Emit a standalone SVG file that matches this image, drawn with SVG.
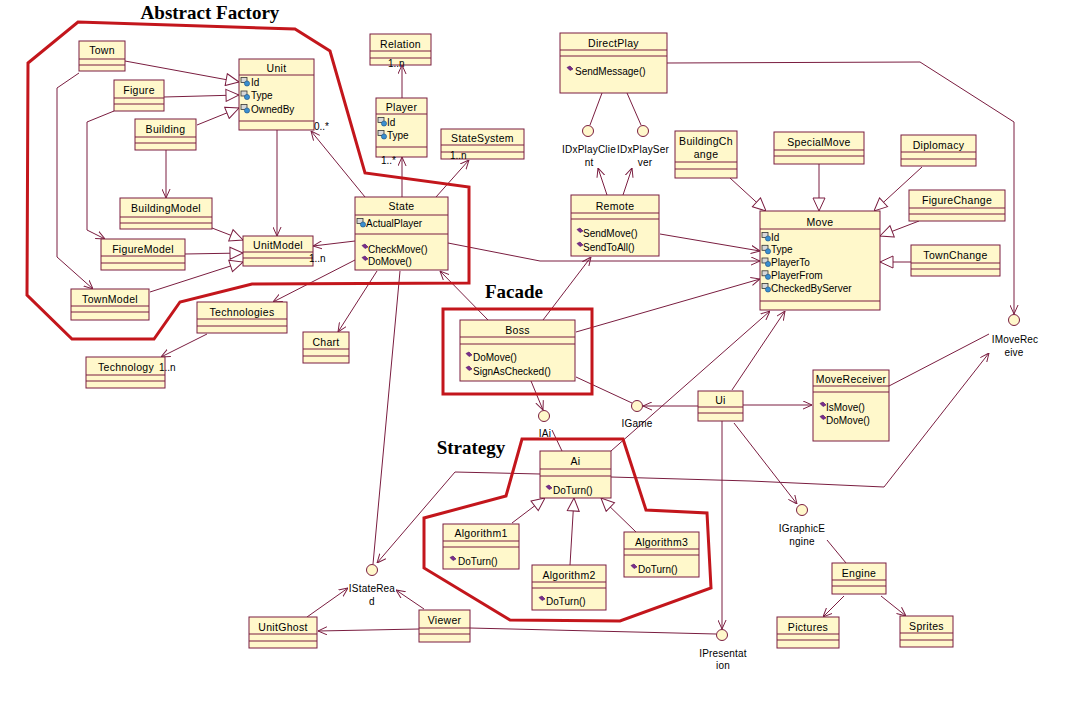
<svg xmlns="http://www.w3.org/2000/svg" xmlns:xlink="http://www.w3.org/1999/xlink" width="1091" height="722" viewBox="0 0 1091 722">
<style>
.b{fill:#FFF8CB;stroke:#7a1d40;stroke-width:1}
.s{fill:none;stroke:#7a1d40;stroke-width:1}
.c{fill:none;stroke:#7a1d40;stroke-width:1}
.ca{fill:none;stroke:#7a1d40;stroke-width:1;marker-end:url(#open)}
.cg{fill:none;stroke:#7a1d40;stroke-width:1;marker-end:url(#tri)}
.r{fill:none;stroke:#C3161C;stroke-width:3;stroke-linejoin:miter}
.i{fill:#FFF8CB;stroke:#7a1d40;stroke-width:1}
text{font-family:"Liberation Sans",Arial,sans-serif;fill:#000}
.n{font-size:10.5px;text-anchor:middle;letter-spacing:0.3px}
.a{font-size:10px}
.l{font-size:10px;text-anchor:middle;letter-spacing:0.2px}
.m{font-size:10px}
.t{font-family:"Liberation Serif","Times New Roman",serif;font-weight:bold;font-size:19px;text-anchor:middle}
</style>
<defs>
<marker id="open" viewBox="0 0 10 10" refX="10" refY="5" markerWidth="9" markerHeight="9" markerUnits="userSpaceOnUse" orient="auto"><path d="M0,0.5 L10,5 L0,9.5" fill="none" stroke="#7a1d40" stroke-width="1.1"/></marker>
<marker id="tri" viewBox="0 0 14 14" refX="14" refY="7" markerWidth="14" markerHeight="14" markerUnits="userSpaceOnUse" orient="auto"><path d="M1,1 L14,7 L1,13 z" fill="#ffffff" stroke="#7a1d40" stroke-width="1"/></marker>
<g id="attr"><rect x="0" y="0" width="6" height="5" fill="#d8d8d8" stroke="#333" stroke-width="0.8"/><circle cx="6" cy="6" r="2.6" fill="#3a8fd0" stroke="#1d4f80" stroke-width="0.6"/></g>
<g id="op"><polygon points="0,1.5 3,0 6,3 3,4.5" fill="#7B2D8E" stroke="#4a1060" stroke-width="0.6"/></g>
</defs>
<rect width="1091" height="722" fill="#ffffff"/>

<g id="connectors">
<path class="cg" d="M125 61L239 82"/>
<path class="cg" d="M164 97L239 95"/>
<path class="cg" d="M197 125L239 108"/>
<path class="cg" d="M212 228L243 240"/>
<path class="cg" d="M185 254L243 253"/>
<path class="cg" d="M150 292L243 262"/>
<path class="cg" d="M730 178L766 211"/>
<path class="cg" d="M819 164L819 211"/>
<path class="cg" d="M922 167L874 211"/>
<path class="cg" d="M919 221L880 236"/>
<path class="cg" d="M911 262L880 262"/>
<path class="cg" d="M512 523L545 498"/>
<path class="cg" d="M570 565L574 498"/>
<path class="cg" d="M636 532L601 498"/>
<path class="ca" d="M166 150L166 198"/>
<path class="ca" d="M277 130L277 236"/>
<path class="ca" d="M79 73L57 88L57 257L93 289"/>
<path class="ca" d="M114 111L87 122L87 230L105 239"/>
<path class="ca" d="M365 197L311 131"/>
<path class="ca" d="M355 241L313 246"/>
<path class="ca" d="M402 197L402 157"/>
<path class="ca" d="M402 98L402 65"/>
<path class="ca" d="M436 197L469 160"/>
<path class="ca" d="M355 260L273 302"/>
<path class="ca" d="M377 271L338 332"/>
<path class="ca" d="M207 334L161 357"/>
<path class="ca" d="M448 243L540 261L760 261"/>
<path class="c" d="M400 271L373 564"/>
<path class="ca" d="M488 320L440 271"/>
<path class="ca" d="M543 320L591 257"/>
<path class="ca" d="M576 332L760 279"/>
<path class="ca" d="M660 234L760 251"/>
<path class="ca" d="M607 195L598 168"/>
<path class="ca" d="M623 195L632 168"/>
<path class="c" d="M602 93L590 125"/>
<path class="c" d="M627 93L641 125"/>
<path class="ca" d="M667 63L920 62L1014 122L1014 314"/>
<path class="ca" d="M531 381L543 410"/>
<path class="c" d="M576 377L632 403"/>
<path class="ca" d="M698 406L643 406"/>
<path class="ca" d="M743 405L812 405"/>
<path class="ca" d="M732 390L785 311"/>
<path class="ca" d="M611 451L770 311"/>
<path class="c" d="M562 451L552 430"/>
<path class="ca" d="M540 474L455 472L377 563"/>
<path class="ca" d="M611 477L750 481L884 487L989 353"/>
<path class="c" d="M889 386L989 334"/>
<path class="ca" d="M722 421L722 629"/>
<path class="ca" d="M734 423L797 504"/>
<path class="c" d="M846 563L827 540"/>
<path class="ca" d="M844 596L823 617"/>
<path class="ca" d="M881 596L906 616"/>
<path class="ca" d="M307 617L348 588"/>
<path class="ca" d="M419 629L318 631"/>
<path class="ca" d="M424 609L396 590"/>
<path class="c" d="M470 628L716 634"/>
</g>

<g id="patterns">
<polygon class="r" points="28,63 78,22 295,29 330,51 365,173 469,187 469,283 252,284 180,302 154,339 72,339 27,295"/>
<rect class="r" x="443" y="309" width="149" height="85"/>
<polygon class="r" points="522,439 623,439 646,510 707,513 711,588 620,621 510,620 424,568 424,518 506,496"/>
<text class="t" x="210" y="18.5">Abstract Factory</text>
<text class="t" x="514" y="298">Facade</text>
<text class="t" x="471" y="454">Strategy</text>
</g>

<g id="town"><rect class="b" x="79" y="41" width="46" height="30"/><path class="s" d="M79 59h46M79 65h46"/><text class="n" x="102" y="53.5">Town</text></g>
<g id="figure"><rect class="b" x="114" y="80" width="50" height="31"/><path class="s" d="M114 98h50M114 104h50"/><text class="n" x="139" y="93.5">Figure</text></g>
<g id="unit"><rect class="b" x="239" y="59" width="75" height="71"/><path class="s" d="M239 75h75M239 121h75"/><text class="n" x="276.5" y="71.5">Unit</text>
<use xlink:href="#attr" x="241" y="77.5"/><text class="a" x="251" y="85.5">Id</text>
<use xlink:href="#attr" x="241" y="91"/><text class="a" x="251" y="99">Type</text>
<use xlink:href="#attr" x="241" y="104.5"/><text class="a" x="251" y="112.5">OwnedBy</text></g>
<g id="building"><rect class="b" x="135" y="119" width="61" height="31"/><path class="s" d="M135 137h61M135 143h61"/><text class="n" x="165.5" y="132.5">Building</text></g>
<g id="buildingmodel"><rect class="b" x="120" y="198" width="92" height="31"/><path class="s" d="M120 217h92M120 223h92"/><text class="n" x="166" y="211.5">BuildingModel</text></g>
<g id="figuremodel"><rect class="b" x="101" y="239" width="84" height="31"/><path class="s" d="M101 256h84M101 263h84"/><text class="n" x="143" y="252.5">FigureModel</text></g>
<g id="unitmodel"><rect class="b" x="243" y="236" width="70" height="30"/><path class="s" d="M243 252h70M243 258h70"/><text class="n" x="278" y="248.5">UnitModel</text></g>
<g id="townmodel"><rect class="b" x="71" y="289" width="78" height="31"/><path class="s" d="M71 306h78M71 312h78"/><text class="n" x="110" y="302.5">TownModel</text></g>
<g id="technologies"><rect class="b" x="197" y="302" width="90" height="31"/><path class="s" d="M197 319h90M197 326h90"/><text class="n" x="242" y="315.5">Technologies</text></g>
<g id="technology"><rect class="b" x="86" y="357" width="79" height="31"/><path class="s" d="M86 375h79M86 381h79"/><text class="n" x="126" y="370.5">Technology</text></g>
<g id="chart"><rect class="b" x="303" y="332" width="46" height="31"/><path class="s" d="M303 349h46M303 356h46"/><text class="n" x="326" y="345.5">Chart</text></g>
<g id="relation"><rect class="b" x="370" y="34" width="61" height="31"/><path class="s" d="M370 51h61M370 58h61"/><text class="n" x="400.5" y="47.5">Relation</text></g>
<g id="player"><rect class="b" x="376" y="98" width="51" height="59"/><path class="s" d="M376 114h51M376 147h51"/><text class="n" x="401.5" y="110.5">Player</text>
<use xlink:href="#attr" x="378" y="117.5"/><text class="a" x="387" y="125.5">Id</text>
<use xlink:href="#attr" x="378" y="130.5"/><text class="a" x="387" y="138.5">Type</text></g>
<g id="statesystem"><rect class="b" x="441" y="129" width="83" height="30"/><path class="s" d="M441 145h83M441 152h83"/><text class="n" x="482.5" y="141.5">StateSystem</text></g>
<g id="state"><rect class="b" x="355" y="197" width="93" height="73"/><path class="s" d="M355 215h93M355 234h93"/><text class="n" x="401.5" y="209.5">State</text>
<use xlink:href="#attr" x="357" y="218.5"/><text class="a" x="366" y="226.5">ActualPlayer</text>
<use xlink:href="#op" x="362" y="244"/><text class="m" x="368" y="252.5">CheckMove()</text>
<use xlink:href="#op" x="362" y="256"/><text class="m" x="368" y="264.5">DoMove()</text></g>
<g id="directplay"><rect class="b" x="560" y="33" width="107" height="60"/><path class="s" d="M560 50h107M560 56h107"/><text class="n" x="613.5" y="46.5">DirectPlay</text>
<use xlink:href="#op" x="567" y="66"/><text class="m" x="575" y="74.5">SendMessage()</text></g>
<g id="remote"><rect class="b" x="571" y="195" width="88" height="61"/><path class="s" d="M571 213h88M571 219h88"/><text class="n" x="615" y="209.5">Remote</text>
<use xlink:href="#op" x="577" y="228"/><text class="m" x="583" y="236.5">SendMove()</text>
<use xlink:href="#op" x="577" y="242"/><text class="m" x="583" y="250.5">SendToAll()</text></g>
<g id="buildingchange"><rect class="b" x="675" y="131" width="62" height="47"/><path class="s" d="M675 162h62M675 169h62"/><text class="n" x="706" y="144.5">BuildingCh</text><text class="n" x="706" y="157.5">ange</text></g>
<g id="specialmove"><rect class="b" x="774" y="132" width="90" height="32"/><path class="s" d="M774 150h90M774 156h90"/><text class="n" x="819" y="145.5">SpecialMove</text></g>
<g id="diplomacy"><rect class="b" x="901" y="135" width="75" height="31"/><path class="s" d="M901 152h75M901 159h75"/><text class="n" x="938.5" y="148.5">Diplomacy</text></g>
<g id="figurechange"><rect class="b" x="909" y="190" width="96" height="31"/><path class="s" d="M909 208h96M909 214h96"/><text class="n" x="957" y="203.5">FigureChange</text></g>
<g id="move"><rect class="b" x="760" y="211" width="120" height="99"/><path class="s" d="M760 229h120M760 301h120"/><text class="n" x="820" y="225.5">Move</text>
<use xlink:href="#attr" x="762" y="232.5"/><text class="a" x="771" y="240.5">Id</text>
<use xlink:href="#attr" x="762" y="245.3"/><text class="a" x="771" y="253.3">Type</text>
<use xlink:href="#attr" x="762" y="258"/><text class="a" x="771" y="266">PlayerTo</text>
<use xlink:href="#attr" x="762" y="270.8"/><text class="a" x="771" y="278.8">PlayerFrom</text>
<use xlink:href="#attr" x="762" y="283.5"/><text class="a" x="771" y="291.5">CheckedByServer</text></g>
<g id="townchange"><rect class="b" x="911" y="245" width="89" height="31"/><path class="s" d="M911 263h89M911 269h89"/><text class="n" x="955.5" y="258.5">TownChange</text></g>
<g id="boss"><rect class="b" x="460" y="320" width="115" height="61"/><path class="s" d="M460 337h115M460 344h115"/><text class="n" x="517.5" y="333.5">Boss</text>
<use xlink:href="#op" x="466" y="352"/><text class="m" x="473" y="360.5">DoMove()</text>
<use xlink:href="#op" x="466" y="366"/><text class="m" x="473" y="374.5">SignAsChecked()</text></g>
<g id="movereceiver"><rect class="b" x="813" y="370" width="76" height="71"/><path class="s" d="M813 386h76M813 392h76"/><text class="n" x="851" y="382.5">MoveReceiver</text>
<use xlink:href="#op" x="820" y="402"/><text class="m" x="826" y="410.5">IsMove()</text>
<use xlink:href="#op" x="820" y="415"/><text class="m" x="826" y="423.5">DoMove()</text></g>
<g id="ui"><rect class="b" x="698" y="391" width="45" height="30"/><path class="s" d="M698 407h45M698 413h45"/><text class="n" x="720.5" y="403.5">Ui</text></g>
<g id="ai"><rect class="b" x="540" y="451" width="71" height="47"/><path class="s" d="M540 469h71M540 476h71"/><text class="n" x="575.5" y="464.5">Ai</text>
<use xlink:href="#op" x="546" y="485"/><text class="m" x="553" y="493.5">DoTurn()</text></g>
<g id="algorithm1"><rect class="b" x="443" y="524" width="76" height="45"/><path class="s" d="M443 541h76M443 547h76"/><text class="n" x="481" y="536.5">Algorithm1</text>
<use xlink:href="#op" x="450" y="556"/><text class="m" x="458" y="564.5">DoTurn()</text></g>
<g id="algorithm2"><rect class="b" x="532" y="565" width="74" height="45"/><path class="s" d="M532 582h74M532 588h74"/><text class="n" x="569" y="578.5">Algorithm2</text>
<use xlink:href="#op" x="539" y="596"/><text class="m" x="546" y="604.5">DoTurn()</text></g>
<g id="algorithm3"><rect class="b" x="624" y="532" width="75" height="45"/><path class="s" d="M624 549h75M624 555h75"/><text class="n" x="661.5" y="545.5">Algorithm3</text>
<use xlink:href="#op" x="631" y="564"/><text class="m" x="638" y="572.5">DoTurn()</text></g>
<g id="unitghost"><rect class="b" x="249" y="617" width="68" height="31"/><path class="s" d="M249 634h68M249 641h68"/><text class="n" x="283" y="630.5">UnitGhost</text></g>
<g id="viewer"><rect class="b" x="419" y="610" width="51" height="32"/><path class="s" d="M419 628h51M419 634h51"/><text class="n" x="444.5" y="623.5">Viewer</text></g>
<g id="engine"><rect class="b" x="832" y="563" width="54" height="31"/><path class="s" d="M832 580h54M832 586h54"/><text class="n" x="859" y="576.5">Engine</text></g>
<g id="pictures"><rect class="b" x="777" y="617" width="62" height="31"/><path class="s" d="M777 634h62M777 640h62"/><text class="n" x="808" y="630.5">Pictures</text></g>
<g id="sprites"><rect class="b" x="900" y="616" width="53" height="31"/><path class="s" d="M900 633h53M900 640h53"/><text class="n" x="926.5" y="629.5">Sprites</text></g>

<g id="idxplayclient"><circle class="i" cx="588" cy="131" r="5.5"/><text class="l" x="589" y="152.5">IDxPlayClie</text><text class="l" x="589" y="165.5">nt</text></g>
<g id="idxplayserver"><circle class="i" cx="643" cy="131" r="5.5"/><text class="l" x="643" y="152.5">IDxPlaySer</text><text class="l" x="645" y="165.5">ver</text></g>
<g id="imovereceive"><circle class="i" cx="1014" cy="320" r="5.5"/><text class="l" x="1015" y="342.5">IMoveRec</text><text class="l" x="1014" y="355.5">eive</text></g>
<g id="igame"><circle class="i" cx="637" cy="406" r="5.5"/><text class="l" x="637" y="427">IGame</text></g>
<g id="iai"><circle class="i" cx="544" cy="416" r="5.5"/><text class="l" x="545" y="436.5">IAi</text></g>
<g id="istateread"><circle class="i" cx="372" cy="570" r="5.5"/><text class="l" x="372" y="591.5">IStateRea</text><text class="l" x="372" y="605">d</text></g>
<g id="igraphicengine"><circle class="i" cx="802" cy="510" r="5.5"/><text class="l" x="802" y="531.5">IGraphicE</text><text class="l" x="802" y="544.5">ngine</text></g>
<g id="ipresentation"><circle class="i" cx="722" cy="635" r="5.5"/><text class="l" x="723" y="656.5">IPresentat</text><text class="l" x="723" y="669">ion</text></g>

<g id="multiplicities">
<text class="a" x="314" y="130">0..*</text>
<text class="a" x="388" y="66.5">1..n</text>
<text class="a" x="381" y="163.5">1..*</text>
<text class="a" x="450" y="158.5">1..n</text>
<text class="a" x="309" y="261.5">1..n</text>
<text class="a" x="159" y="370.5">1..n</text>
</g>
</svg>
